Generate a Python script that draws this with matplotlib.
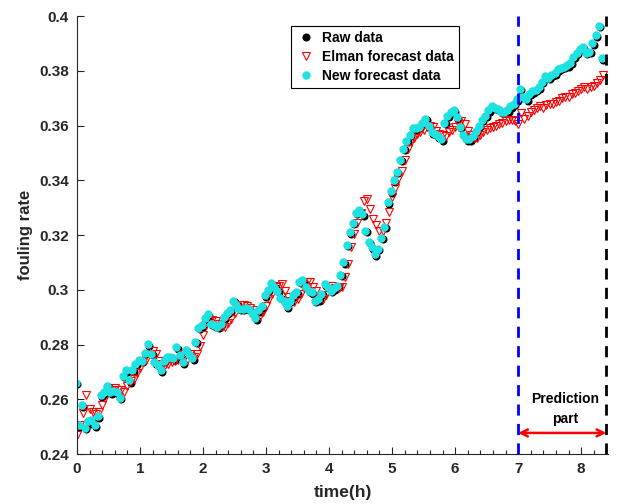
import numpy as np
import matplotlib
matplotlib.use("Agg")
import matplotlib.pyplot as plt
from matplotlib.ticker import MultipleLocator, FormatStrFormatter
from matplotlib.transforms import offset_copy

plt.rcParams['font.family'] = ['Liberation Sans', 'DejaVu Sans']
plt.rcParams['font.weight'] = 'bold'

# time grid, hours (one reading every 0.05 h)
t_start, t_step, n_pts = 0.0, 0.05, 168

raw_data = [
    0.2655, 0.2500, 0.2570, 0.2490, 0.2510, 0.2520, 0.2500, 0.2530, 0.2610, 0.2620,
    0.2645, 0.2620, 0.2625, 0.2620, 0.2600, 0.2680, 0.2700, 0.2660, 0.2700, 0.2725,
    0.2740, 0.2735, 0.2765, 0.2795, 0.2760, 0.2730, 0.2720, 0.2700, 0.2735, 0.2750,
    0.2750, 0.2745, 0.2785, 0.2755, 0.2730, 0.2775, 0.2760, 0.2745, 0.2805, 0.2855,
    0.2865, 0.2890, 0.2905, 0.2870, 0.2865, 0.2860, 0.2870, 0.2895, 0.2910, 0.2920,
    0.2955, 0.2940, 0.2925, 0.2925, 0.2930, 0.2925, 0.2910, 0.2890, 0.2920, 0.2935,
    0.2975, 0.2995, 0.3020, 0.3005, 0.2990, 0.2965, 0.2955, 0.2935, 0.2955, 0.2975,
    0.2985, 0.3025, 0.3030, 0.3005, 0.2990, 0.2985, 0.2955, 0.2960, 0.2980, 0.3015,
    0.3005, 0.2990, 0.3000, 0.3010, 0.3050, 0.3095, 0.3160, 0.3205, 0.3240, 0.3275,
    0.3285, 0.3270, 0.3210, 0.3170, 0.3150, 0.3125, 0.3145, 0.3185, 0.3225, 0.3315,
    0.3355, 0.3395, 0.3425, 0.3470, 0.3510, 0.3540, 0.3560, 0.3585, 0.3585, 0.3590,
    0.3605, 0.3620, 0.3595, 0.3570, 0.3565, 0.3555, 0.3545, 0.3605, 0.3630, 0.3645,
    0.3650, 0.3625, 0.3590, 0.3560, 0.3545, 0.3545, 0.3555, 0.3575, 0.3595, 0.3615,
    0.3630, 0.3650, 0.3665, 0.3660, 0.3655, 0.3645, 0.3645, 0.3650, 0.3665, 0.3675,
    0.3690, 0.3730, 0.3700, 0.3690, 0.3710, 0.3720, 0.3725, 0.3735, 0.3755, 0.3775,
    0.3770, 0.3780, 0.3785, 0.3800, 0.3805, 0.3810, 0.3815, 0.3825, 0.3845, 0.3860,
    0.3875, 0.3880, 0.3860, 0.3865, 0.3895, 0.3925, 0.3960, 0.3840,
]

elman_forecast = [
    0.2470, 0.2505, 0.2550, 0.2615, 0.2565, 0.2555, 0.2545, 0.2555, 0.2580, 0.2605,
    0.2625, 0.2635, 0.2640, 0.2635, 0.2635, 0.2625, 0.2650, 0.2665, 0.2675, 0.2695,
    0.2715, 0.2735, 0.2745, 0.2765, 0.2775, 0.2765, 0.2740, 0.2730, 0.2725, 0.2730,
    0.2735, 0.2740, 0.2745, 0.2765, 0.2750, 0.2745, 0.2765, 0.2755, 0.2765, 0.2795,
    0.2835, 0.2870, 0.2885, 0.2890, 0.2885, 0.2875, 0.2865, 0.2865, 0.2880, 0.2895,
    0.2915, 0.2930, 0.2945, 0.2945, 0.2940, 0.2935, 0.2925, 0.2910, 0.2905, 0.2920,
    0.2940, 0.2965, 0.2985, 0.3010, 0.3015, 0.3020, 0.2995, 0.2975, 0.2960, 0.2955,
    0.2965, 0.2985, 0.3005, 0.3030, 0.3030, 0.3010, 0.2995, 0.2975, 0.2965, 0.2980,
    0.3005, 0.3015, 0.3005, 0.3005, 0.3010, 0.3045, 0.3095, 0.3155, 0.3205, 0.3245,
    0.3280, 0.3325, 0.3330, 0.3295, 0.3260, 0.3235, 0.3215, 0.3215, 0.3245, 0.3285,
    0.3340, 0.3370, 0.3405, 0.3435, 0.3475, 0.3515, 0.3540, 0.3555, 0.3570, 0.3575,
    0.3585, 0.3595, 0.3600, 0.3595, 0.3580, 0.3570, 0.3565, 0.3560, 0.3575, 0.3585,
    0.3595, 0.3610, 0.3615, 0.3605, 0.3580, 0.3565, 0.3555, 0.3555, 0.3565, 0.3575,
    0.3585, 0.3590, 0.3595, 0.3600, 0.3605, 0.3610, 0.3615, 0.3620, 0.3620, 0.3615,
    0.3605, 0.3645, 0.3625, 0.3635, 0.3650, 0.3655, 0.3665, 0.3670, 0.3665, 0.3675,
    0.3680, 0.3680, 0.3685, 0.3690, 0.3700, 0.3705, 0.3705, 0.3715, 0.3720, 0.3725,
    0.3735, 0.3740, 0.3735, 0.3740, 0.3745, 0.3755, 0.3765, 0.3785,
]

new_forecast = [
    0.2655, 0.2500, 0.2575, 0.2490, 0.2515, 0.2520, 0.2500, 0.2535, 0.2610, 0.2620,
    0.2645, 0.2620, 0.2625, 0.2620, 0.2600, 0.2680, 0.2700, 0.2665, 0.2700, 0.2725,
    0.2740, 0.2735, 0.2765, 0.2795, 0.2760, 0.2730, 0.2720, 0.2700, 0.2735, 0.2750,
    0.2750, 0.2745, 0.2785, 0.2755, 0.2730, 0.2775, 0.2760, 0.2745, 0.2805, 0.2855,
    0.2865, 0.2890, 0.2905, 0.2870, 0.2865, 0.2860, 0.2870, 0.2895, 0.2910, 0.2920,
    0.2955, 0.2940, 0.2925, 0.2925, 0.2930, 0.2925, 0.2910, 0.2890, 0.2920, 0.2935,
    0.2975, 0.2995, 0.3020, 0.3005, 0.2990, 0.2965, 0.2955, 0.2935, 0.2955, 0.2975,
    0.2985, 0.3025, 0.3030, 0.3005, 0.2990, 0.2985, 0.2955, 0.2960, 0.2980, 0.3015,
    0.3005, 0.2990, 0.3000, 0.3010, 0.3050, 0.3095, 0.3160, 0.3205, 0.3240, 0.3275,
    0.3285, 0.3270, 0.3210, 0.3170, 0.3150, 0.3125, 0.3145, 0.3185, 0.3225, 0.3315,
    0.3355, 0.3395, 0.3425, 0.3470, 0.3510, 0.3540, 0.3560, 0.3585, 0.3585, 0.3590,
    0.3605, 0.3620, 0.3595, 0.3570, 0.3565, 0.3555, 0.3545, 0.3605, 0.3630, 0.3645,
    0.3650, 0.3625, 0.3590, 0.3560, 0.3545, 0.3545, 0.3555, 0.3575, 0.3595, 0.3615,
    0.3630, 0.3650, 0.3665, 0.3660, 0.3655, 0.3645, 0.3645, 0.3650, 0.3665, 0.3675,
    0.3690, 0.3730, 0.3700, 0.3690, 0.3710, 0.3720, 0.3725, 0.3735, 0.3755, 0.3775,
    0.3770, 0.3780, 0.3785, 0.3800, 0.3805, 0.3810, 0.3815, 0.3825, 0.3845, 0.3860,
    0.3875, 0.3880, 0.3860, 0.3865, 0.3895, 0.3925, 0.3960, 0.3840,
]

t = t_start + t_step * np.arange(n_pts)
t_split, t_end = 7.0, 8.4

fig = plt.figure(figsize=(6.18, 5.04), dpi=100)
ax = fig.add_axes([0.1246, 0.0992, 0.8596, 0.8690])

ax.plot(t, raw_data, 'o', color='black', ms=5.8, mew=0, label='Raw data')
ax.plot(t, elman_forecast, 'v', mfc='none', mec='red', ms=5.8, mew=0.8,
        label='Elman forecast data')
shift = offset_copy(ax.transData, fig=fig, x=-1.0, y=1.0, units='points')
ax.plot(t, new_forecast, marker=(6, 2, 0), ls='none', color='#1EE1E1',
        mec='#1EE1E1', ms=5.5, mew=2.4, transform=shift,
        label='New forecast data')

ax.axvline(t_split, color='#0000FF', ls=(0, (4, 3)), lw=2)
ax.axvline(t_end, color='black', ls=(0, (4, 3)), lw=2)

ax.annotate('', xy=(t_end, 0.2477), xytext=(t_split, 0.2477),
            arrowprops=dict(arrowstyle='<->,head_length=0.5,head_width=0.25',
                            color='red', lw=1.8, shrinkA=0, shrinkB=0))
ax.text(7.75, 0.2565, 'Prediction\npart', ha='center', va='center',
        fontsize=10, fontweight='bold', color='black', linespacing=1.5)

ax.set_xlim(0, 8.43)
ax.set_ylim(0.24, 0.4)
ax.xaxis.set_major_locator(MultipleLocator(1))
ax.xaxis.set_minor_locator(MultipleLocator(0.2))
ax.yaxis.set_major_locator(MultipleLocator(0.02))
ax.yaxis.set_major_formatter(FormatStrFormatter('%g'))
ax.tick_params(which='both', direction='in', colors='#262626',
               labelsize=11, width=0.8)
ax.tick_params(which='major', length=5, pad=6)
ax.tick_params(which='minor', length=3)
ax.yaxis.set_minor_locator(plt.NullLocator())
for lab in ax.get_xticklabels() + ax.get_yticklabels():
    lab.set_fontweight('bold')
for side in ['top', 'right']:
    ax.spines[side].set_visible(False)
for side in ['left', 'bottom']:
    ax.spines[side].set_color('#262626')
    ax.spines[side].set_linewidth(0.8)

ax.set_xlabel('time(h)', fontsize=12.5, fontweight='bold', color='#262626',
              labelpad=6)
ax.set_ylabel('fouling rate', fontsize=12, fontweight='bold', color='#262626',
              labelpad=4)

leg = ax.legend(loc='upper left', bbox_to_anchor=(0.403, 0.977),
                borderaxespad=0, fancybox=False, framealpha=1,
                edgecolor='black', handletextpad=0.5,
                handlelength=1.4, borderpad=0.35, labelspacing=0.35,
                prop={'weight': 'bold', 'size': 10})
leg.get_frame().set_linewidth(0.8)

fig.savefig('out.png', dpi=100)
